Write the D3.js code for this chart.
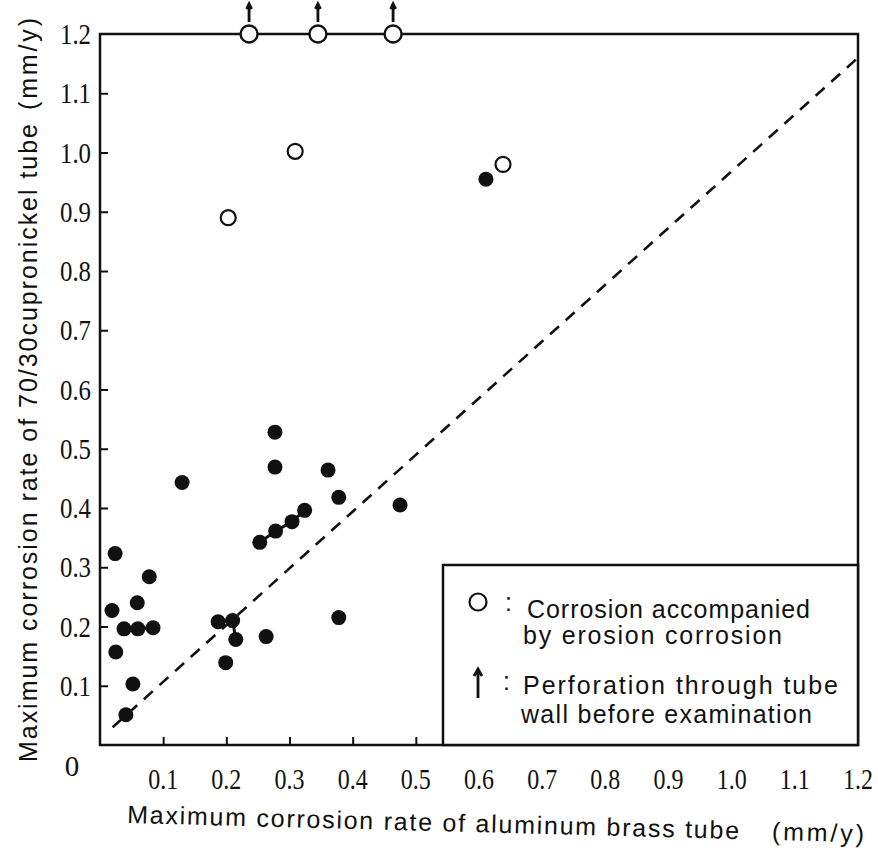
<!DOCTYPE html>
<html>
<head>
<meta charset="utf-8">
<script src="https://cdn.jsdelivr.net/npm/d3@7/dist/d3.min.js"></script>
<style>
  html, body { margin: 0; padding: 0; background: #fff; }
  svg { display: block; }
</style>
</head>
<body>
<script>
// ---- data ----
const xTickValues = [0.1, 0.2, 0.3, 0.4, 0.5, 0.6, 0.7, 0.8, 0.9, 1.0, 1.1, 1.2];
const yTickValues = [0.1, 0.2, 0.3, 0.4, 0.5, 0.6, 0.7, 0.8, 0.9, 1.0, 1.1, 1.2];
const tickLabels = ["0.1","0.2","0.3","0.4","0.5","0.6","0.7","0.8","0.9","1.0","1.1","1.2"];

// filled dots: aluminum brass (x) vs 70/30 cupronickel (y), mm/y
const solidX = [0.024, 0.078, 0.059, 0.019, 0.038, 0.060, 0.084, 0.025, 0.052, 0.041,
                0.130, 0.277, 0.277, 0.361, 0.378, 0.253, 0.278, 0.304, 0.324, 0.475,
                0.187, 0.210, 0.215, 0.263, 0.199, 0.378, 0.611];
const solidY = [0.323, 0.284, 0.240, 0.227, 0.196, 0.196, 0.198, 0.157, 0.103, 0.051,
                0.443, 0.528, 0.469, 0.464, 0.418, 0.342, 0.361, 0.377, 0.396, 0.405,
                0.208, 0.210, 0.178, 0.183, 0.139, 0.215, 0.955];

// open circles: corrosion accompanied by erosion corrosion
const openX = [0.203, 0.309, 0.638];
const openY = [0.890, 1.002, 0.980];

// open circles with perforation (plotted at the top limit)
const perfX = [0.236, 0.345, 0.464];
const perfY = [1.2, 1.2, 1.2];

// linked groups of points (index lists into solid arrays)
const linkGroups = [[4, 5, 6], [15, 16, 17, 18], [20, 21, 22]];

// y = x reference line
const diagX = [0.02, 1.2];
const diagY = [0.03, 1.16];

const legendLines = ["Corrosion accompanied", "by erosion corrosion",
                     "Perforation through tube", "wall before examination"];

// ---- drawing ----
const W = 878, H = 864;
const svg = d3.select("body").append("svg").attr("width", W).attr("height", H);

const x = d3.scaleLinear().domain([0, 1.2]).range([100, 858]);
const y = d3.scaleLinear().domain([0, 1.2]).range([745, 34]);

const ink = "#111";
const serif = "'Liberation Serif', 'DejaVu Serif', 'Times New Roman', serif";
const sans = "'Liberation Sans', 'DejaVu Sans', Arial, sans-serif";

// frame
svg.append("rect")
  .attr("x", x(0)).attr("y", y(1.2))
  .attr("width", x(1.2) - x(0)).attr("height", y(0) - y(1.2))
  .attr("fill", "none").attr("stroke", ink).attr("stroke-width", 2.5);

// x axis (ticks inward)
const xAxis = d3.axisBottom(x).tickValues(xTickValues.slice(0, 11)).tickSizeInner(-8).tickSizeOuter(0).tickFormat("");
const gx = svg.append("g").attr("transform", `translate(0,${y(0)})`).call(xAxis);
gx.select(".domain").remove();
gx.selectAll(".tick line").attr("stroke", ink).attr("stroke-width", 2);

const yAxis = d3.axisLeft(y).tickValues(yTickValues.slice(0, 11)).tickSizeInner(-8).tickSizeOuter(0).tickFormat("");
const gy = svg.append("g").attr("transform", `translate(${x(0)},0)`).call(yAxis);
gy.select(".domain").remove();
gy.selectAll(".tick line").attr("stroke", ink).attr("stroke-width", 2);

function styleTick(sel) {
  sel.style("font-family", serif).style("font-size", "29px").style("fill", ink);
}
function styleTitle(sel) {
  sel.style("font-family", sans).style("font-size", "25px").style("fill", ink);
}

// tick labels
svg.append("g").selectAll("text").data(xTickValues).join("text")
  .call(styleTick)
  .attr("x", d => x(d) - 15).attr("y", 789)
  .attr("textLength", 30).attr("lengthAdjust", "spacingAndGlyphs")
  .text((d, i) => tickLabels[i]);

svg.append("g").selectAll("text").data(yTickValues).join("text")
  .call(styleTick)
  .attr("x", 60).attr("y", d => y(d) + 10)
  .attr("textLength", 31).attr("lengthAdjust", "spacingAndGlyphs")
  .text((d, i) => tickLabels[i]);

svg.append("text").call(styleTick)
  .attr("x", 72).attr("y", 776).attr("text-anchor", "middle").text("0");

// legend box
const legTop = 565, legLeft = 443;
svg.append("rect")
  .attr("x", legLeft).attr("y", legTop)
  .attr("width", x(1.2) - legLeft).attr("height", y(0) - legTop)
  .attr("fill", "#fff").attr("stroke", ink).attr("stroke-width", 2.5);

// diagonal dashed line
svg.append("line")
  .attr("x1", x(diagX[0])).attr("y1", y(diagY[0]))
  .attr("x2", x(diagX[1])).attr("y2", y(diagY[1]))
  .attr("stroke", ink).attr("stroke-width", 2.6)
  .attr("stroke-dasharray", "12 9");

// links
const line = d3.line().x(i => x(solidX[i])).y(i => y(solidY[i]));
svg.append("g").selectAll("path").data(linkGroups).join("path")
  .attr("d", line).attr("fill", "none").attr("stroke", ink).attr("stroke-width", 3);

// filled dots
svg.append("g").selectAll("circle").data(solidX).join("circle")
  .attr("cx", d => x(d)).attr("cy", (d, i) => y(solidY[i]))
  .attr("r", 7.5).attr("fill", ink);

// open circles
svg.append("g").selectAll("circle").data(openX).join("circle")
  .attr("cx", d => x(d)).attr("cy", (d, i) => y(openY[i]))
  .attr("r", 7.5).attr("fill", "#fff").attr("stroke", ink).attr("stroke-width", 2.2);

// perforation circles with arrows
const perf = svg.append("g");
perf.selectAll("circle").data(perfX).join("circle")
  .attr("cx", d => x(d)).attr("cy", (d, i) => y(perfY[i]))
  .attr("r", 8.5).attr("fill", "#fff").attr("stroke", ink).attr("stroke-width", 2.4);
perf.selectAll("path").data(perfX).join("path")
  .attr("d", (d, i) => {
    const cx = x(d), top = y(perfY[i]) - 30, bot = y(perfY[i]) - 12;
    return `M${cx},${bot} L${cx},${top} M${cx - 2.5},${top + 5} L${cx},${top} L${cx + 2.5},${top + 5}`;
  })
  .attr("fill", "none").attr("stroke", ink).attr("stroke-width", 2.8);

// legend content
svg.append("circle").attr("cx", 478).attr("cy", 602).attr("r", 8.5)
  .attr("fill", "#fff").attr("stroke", ink).attr("stroke-width", 2.2);
svg.append("path")
  .attr("d", "M478,698 L478,670 M474,676 L478,669 L482,676")
  .attr("fill", "none").attr("stroke", ink).attr("stroke-width", 2.8);
svg.append("text").call(styleTitle).attr("x", 505).attr("y", 611).text(":");
svg.append("text").call(styleTitle).attr("x", 503).attr("y", 690).text(":");

const legPos = [[527, 618, 283], [523, 644, 259], [523, 694, 315], [521, 723, 291]];
svg.append("g").selectAll("text").data(legendLines).join("text")
  .call(styleTitle)
  .attr("x", (d, i) => legPos[i][0]).attr("y", (d, i) => legPos[i][1])
  .attr("textLength", (d, i) => legPos[i][2]).attr("lengthAdjust", "spacing")
  .text(d => d);

// x title
const xt = svg.append("g").attr("transform", "rotate(1.5,127,823)");
xt.append("text").call(styleTitle).attr("x", 127).attr("y", 823)
  .attr("textLength", 612).attr("lengthAdjust", "spacing")
  .text("Maximum corrosion rate of aluminum brass tube");
xt.append("text").call(styleTitle).attr("x", 772).attr("y", 823)
  .attr("textLength", 92).attr("lengthAdjust", "spacing")
  .text("(mm/y)");

// y title
const yt = svg.append("g").attr("transform", "translate(37,762) rotate(-90)");
yt.append("text").call(styleTitle).attr("x", 0).attr("y", 0)
  .attr("textLength", 638).attr("lengthAdjust", "spacing")
  .text("Maximum corrosion rate of 70/30cupronickel tube");
yt.append("text").call(styleTitle).attr("x", 652).attr("y", 0)
  .attr("textLength", 92).attr("lengthAdjust", "spacing")
  .text("(mm/y)");
</script>
</body>
</html>
